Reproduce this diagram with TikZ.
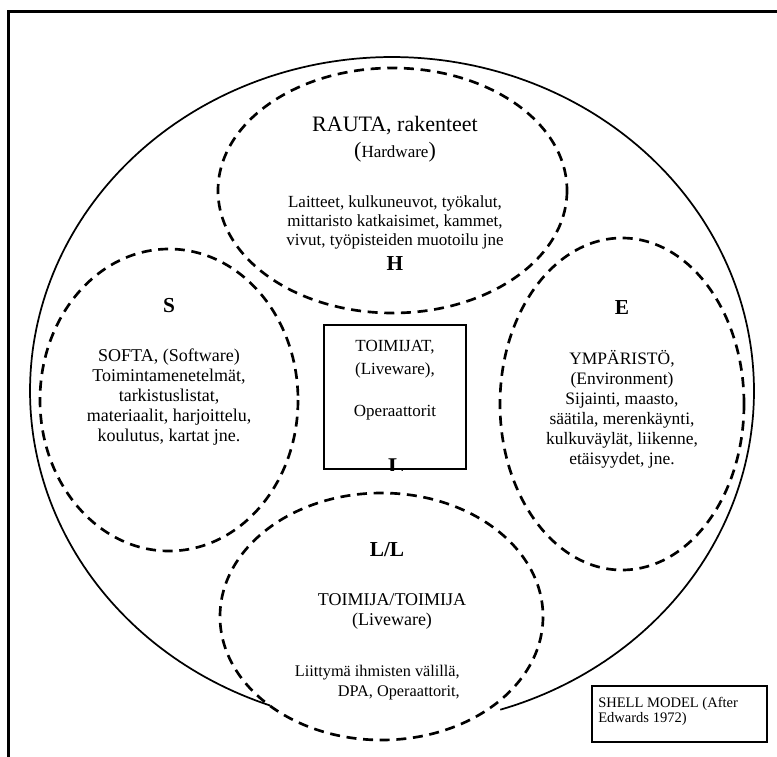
\documentclass[tikz,border=0pt]{standalone}
\usepackage{fontspec}
\setmainfont{Liberation Serif}
\begin{document}
\begin{tikzpicture}[x=0.75pt, y=-0.75pt,
  dashring/.style={line width=2pt, dash pattern=on 7.5pt off 5pt},
  txt/.style={inner sep=0pt, anchor=base, align=center,
    font=\fontsize{12.75pt}{13.9pt}\selectfont},
  stxt/.style={txt, font=\fontsize{13.5pt}{15pt}\selectfont},
  etxt/.style={txt, font=\fontsize{13.1pt}{15pt}\selectfont},
  lbl/.style={inner sep=0pt, anchor=base, font=\fontsize{16pt}{16pt}\selectfont\bfseries},
]
\useasboundingbox (0,0) rectangle (777,756);

% page frame, running off the right and bottom edges
\begin{scope}
  \clip (0,0) rectangle (777,756);
  \draw[line width=2pt] (8.5,11.5) rectangle (800,800);
\end{scope}

% outer shell, open where the L/L ring sits
\draw[line width=1.3pt] plot[domain=109.7:432.6, samples=260]
  ({392+362*cos(\x)}, {391+334*sin(\x)});

% the four dashed rings
\draw[dashring] (392.5,190.5) ellipse[x radius=174.5, y radius=122.5];
\draw[dashring] (169,400) ellipse[x radius=129, y radius=151];
\draw[dashring] (622,404) ellipse[x radius=122, y radius=166];
\draw[dashring] (381.5,616.5) ellipse[x radius=161.5, y radius=123.5];

% Hardware (multi-line nodes sit on the baseline of their last line)
\node[inner sep=0pt, anchor=base, font=\fontsize{16.5pt}{16.5pt}\selectfont] (rauta) at (395,131.7) {RAUTA, rakenteet};
\node[txt] (hw) at (395,157) {{\fontsize{16.5pt}{16.5pt}\selectfont(}Hardware{\fontsize{16.5pt}{16.5pt}\selectfont)}};
\node[txt] (hwlist) at (395,245) {Laitteet, kulkuneuvot, työkalut,\\mittaristo katkaisimet, kammet,\\vivut, työpisteiden muotoilu jne};
\node[lbl] (hlbl) at (395,270) {H};

% Software
\node[lbl] (slbl) at (169,312.7) {S};
\node[stxt] (slist) at (169,441.7) {SOFTA, (Software)\\Toimintamenetelmät,\\tarkistuslistat,\\materiaalit, harjoittelu,\\koulutus, kartat jne.};

% Environment
\node[lbl] (elbl) at (622,314) {E};
\node[etxt] (elist) at (622,464) {YMPÄRISTÖ,\\(Environment)\\Sijainti, maasto,\\säätila, merenkäynti,\\kulkuväylät, liikenne,\\etäisyydet, jne.};

% Liveware box in the middle
\node[draw, line width=1.5pt, inner sep=0pt, minimum width=106.5pt, minimum height=108pt] (lw) at (395,397) {};
\node[txt, font=\fontsize{12.75pt}{17.25pt}\selectfont] (lwtxt) at (395,374) {TOIMIJAT,\\(Liveware),};
\node[txt] (oper) at (395,416.7) {Operaattorit};
\begin{scope}
  \clip (lw.south west) rectangle (lw.north east);
  \node[lbl, font=\fontsize{18pt}{18pt}\selectfont\bfseries] (llbl) at (396,474) {L};
\end{scope}

% Liveware-Liveware
\node[lbl] (lllbl) at (387,556.7) {L/L};
\node[stxt] (lltxt) at (392,625) {TOIMIJA/TOIMIJA\\(Liveware)};
\node[inner sep=0pt, anchor=base east, align=right, font=\fontsize{12.2pt}{15pt}\selectfont] (llist) at (460,696) {Liittymä ihmisten välillä,\\DPA, Operaattorit,};

% caption box
\node[draw, line width=1.2pt, inner sep=0pt, minimum width=131.25pt, minimum height=42pt] (shellbox) at (679.5,714) {};
\node[inner sep=0pt, anchor=base west, align=left, font=\fontsize{10.9pt}{11pt}\selectfont] (shell) at (598,722) {SHELL MODEL (After\\Edwards 1972)};
\end{tikzpicture}
\end{document}
